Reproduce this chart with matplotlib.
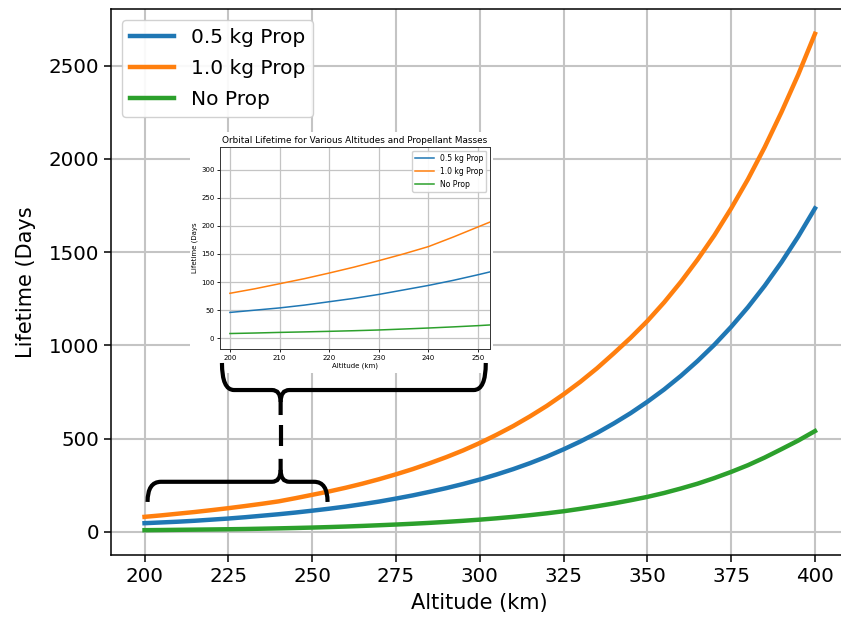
import matplotlib
matplotlib.use('Agg')
import matplotlib.pyplot as plt
from matplotlib.path import Path
from matplotlib.patches import PathPatch

# ---------------- data ----------------
altitude = [200, 205, 210, 215, 220, 225, 230, 235, 240, 245, 250,
            255, 260, 265, 270, 275, 280, 285, 290, 295, 300,
            305, 310, 315, 320, 325, 330, 335, 340, 345, 350,
            355, 360, 365, 370, 375, 380, 385, 390, 395, 400]
life_05 = [46, 50, 54, 59, 65, 71, 78, 86, 94, 103, 113,
           123.5, 135, 148, 162, 178, 195, 214, 234, 256, 280,
           307, 336, 368, 403, 442, 484, 530, 581, 636, 697,
           763, 836, 916, 1003, 1099, 1204, 1319, 1445, 1583, 1734]
life_10 = [80, 88, 97, 106, 116, 126.5, 138, 150, 163, 180, 198,
           216, 236, 258, 282, 308, 336, 367, 400, 436, 476,
           520, 567, 619, 675, 737, 804, 877, 957, 1040, 1130,
           1230, 1340, 1460, 1590, 1734, 1890, 2062, 2250, 2451, 2670]
life_00 = [8.5, 9.4, 10.5, 11.4, 12.4, 13.5, 14.8, 16.5, 18.3, 20.3, 22.5,
           25.1, 28, 31.3, 35, 38.8, 43, 47.7, 53, 58.7, 65,
           72.1, 80, 89, 99, 110, 123, 137, 152, 169, 187,
           208, 232, 258, 288, 321, 357, 398, 443, 489, 540]
series_labels = ['0.5 kg Prop', '1.0 kg Prop', 'No Prop']
series_colors = ['#1f77b4', '#ff7f0e', '#2ca02c']
main_xticks = [200, 225, 250, 275, 300, 325, 350, 375, 400]
main_yticks = [0, 500, 1000, 1500, 2000, 2500]
inset_xticks = [200, 210, 220, 230, 240, 250]
inset_yticks = [0, 50, 100, 150, 200, 250, 300]
title = 'Orbital Lifetime for Various Altitudes and Propellant Masses'
xlabel = 'Altitude (km)'
ylabel = 'Lifetime (Days'

series = [life_05, life_10, life_00]

W, H = 841, 618
fig = plt.figure(figsize=(W / 100, H / 100), dpi=100)
fig.patch.set_facecolor('white')

def px_rect(l, t, r, b):
    return [l / W, 1 - b / H, (r - l) / W, (b - t) / H]

# ---------------- main axes ----------------
ax = fig.add_axes(px_rect(111, 9, 848.5, 555))
for vals, lab, col in zip(series, series_labels, series_colors):
    ax.plot(altitude, vals, color=col, lw=3.2, label=lab)
ax.set_xticks(main_xticks)
ax.set_yticks(main_yticks)
ax.tick_params(labelsize=14.3, length=5, width=1.1)
ax.grid(True, color='#c4c4c4', lw=1.5)
for s in ax.spines.values():
    s.set_linewidth(1.1)
ax.set_xlabel(xlabel, fontsize=15, labelpad=5)
ax.set_ylabel(ylabel, fontsize=15, labelpad=9)
ax.legend(loc='upper left', fontsize=14.5, handlelength=2.2,
          labelspacing=0.6, borderaxespad=0.55, framealpha=0.9)

# ---------------- white backdrop of inset (pasted figure) ----------------
bg = fig.add_axes(px_rect(190, 132, 493, 373))
bg.set_facecolor('white')
bg.set_xticks([]); bg.set_yticks([])
for s in bg.spines.values():
    s.set_visible(False)
bg.set_xlim(0, 1); bg.set_ylim(0, 1)

# ---------------- braces (in main-axes data coordinates) ----------------
def brace(x0, x1, xm, y_tip, y_flat, y_point, rx, rxm, rym):
    sgn = 1 if y_point > y_flat else -1
    left = Path([(x0, y_tip), (x0, y_flat), (x0 + rx, y_flat),
                 (xm - rxm, y_flat), (xm, y_flat), (xm, y_flat + sgn * rym),
                 (xm, y_point)],
                [Path.MOVETO, Path.CURVE3, Path.CURVE3, Path.LINETO,
                 Path.CURVE3, Path.CURVE3, Path.LINETO])
    right = Path([(xm, y_flat + sgn * rym), (xm, y_flat), (xm + rxm, y_flat),
                  (x1 - rx, y_flat), (x1, y_flat), (x1, y_tip)],
                 [Path.MOVETO, Path.CURVE3, Path.CURVE3, Path.LINETO,
                  Path.CURVE3, Path.CURVE3])
    for p in (left, right):
        bg.add_patch(PathPatch(p, transform=ax.transData, fill=False,
                               edgecolor='black', lw=3.0, clip_on=False,
                               capstyle='butt', zorder=5))

brace_mid = 240.6
brace(200.9, 254.6, brace_mid, 160, 268, 391, 4.0, 2.6, 64)
brace(223.1, 301.8, brace_mid, 905, 760, 626, 3.6, 2.6, 64)
bg.plot([brace_mid, brace_mid], [460, 573], color='black', lw=3.0,
        solid_capstyle='butt', transform=ax.transData, clip_on=False, zorder=5)

# ---------------- inset axes ----------------
ins = fig.add_axes(px_rect(220, 147, 490, 349))
for vals, lab, col in zip(series, series_labels, series_colors):
    ins.plot(altitude, vals, color=col, lw=1.1, label=lab)
ins.set_xlim(198.0, 252.4)
ins.set_ylim(-19, 340)
ins.set_xticks(inset_xticks)
ins.set_yticks(inset_yticks)
ins.tick_params(labelsize=5, length=2, width=0.6, pad=2)
ins.grid(True, color='#c4c4c4', lw=0.9)
for s in ins.spines.values():
    s.set_linewidth(0.7)
    s.set_color('#333333')
ins.set_title(title, fontsize=6.4, pad=3)
ins.set_xlabel(xlabel, fontsize=5, labelpad=1.5)
ins.set_ylabel(ylabel, fontsize=5, labelpad=2)
ins.legend(loc='upper right', fontsize=5.5, handlelength=2.4, framealpha=0.9,
           borderaxespad=0.5)

fig.savefig('out.png', dpi=100, facecolor='white')
